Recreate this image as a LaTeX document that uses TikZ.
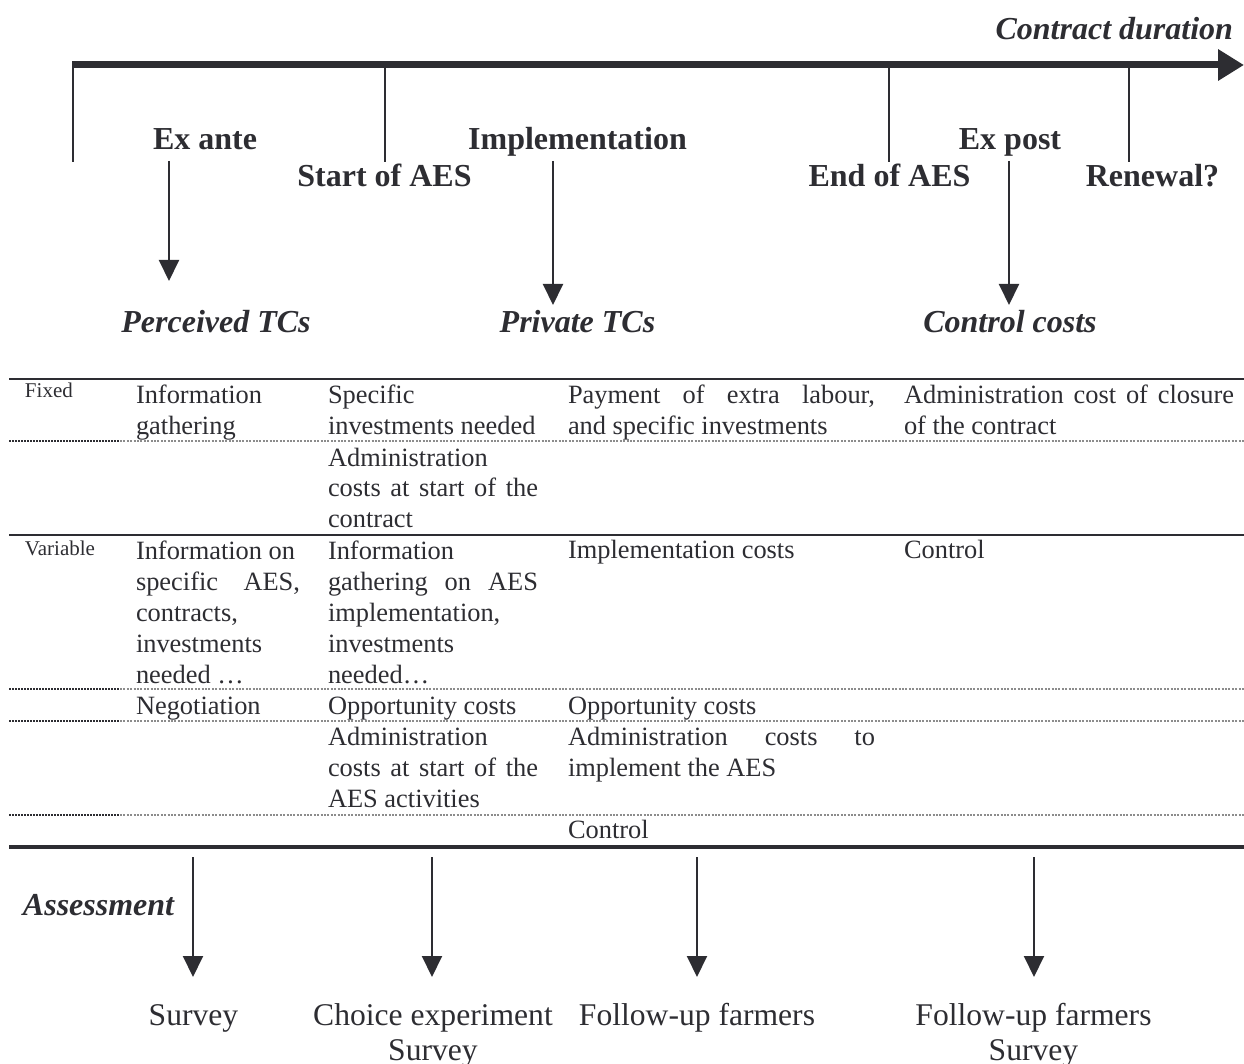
\documentclass[tikz,border=0pt]{standalone}
\usepackage{fontspec}
\setmainfont{Liberation Serif}
\usetikzlibrary{arrows.meta}
\definecolor{ink}{RGB}{45,45,50}
\definecolor{dotlight}{RGB}{140,140,140}
\newcommand{\strline}[2]{\makebox[#1][s]{#2}}
\begin{document}
\begin{tikzpicture}[x=0.5pt,y=-0.5pt,
  every node/.style={inner sep=0pt, outer sep=0pt, text=ink},
  head/.style={font=\bfseries\fontsize{16}{19}\selectfont, anchor=base},
  headit/.style={font=\bfseries\itshape\fontsize{16}{19}\selectfont, anchor=base},
  cell/.style={font=\fontsize{13.2}{15.5}\selectfont, anchor=base west, align=left},
  smalllab/.style={font=\fontsize{10.5}{12}\selectfont, anchor=base west},
  bot/.style={font=\fontsize{15.8}{17.5}\selectfont, anchor=base, align=center},
  tick/.style={draw=ink, line width=1pt},
  darr/.style={draw=ink, line width=1pt, -{Triangle[length=10.5pt,width=10pt]}},
  solidrule/.style={draw=ink, line width=1.2pt},
  dotdark/.style={draw=ink, line width=1pt, dash pattern=on 1pt off 0.5pt},
  dotlite/.style={draw=dotlight, line width=1pt, dash pattern=on 1pt off 0.7pt}
]
\useasboundingbox (0,0) rectangle (1244,1064);

% ---- timeline ----
\coordinate (t0) at (72,65);
\coordinate (t1) at (1244,65);
\draw[ink, line width=3.5pt, -{Triangle[length=13pt,width=15pt]}] (t0) -- (t1);
\node[headit, anchor=base east] (cd) at (1233,40) {Contract duration};

\coordinate (k0a) at (73,65);   \coordinate (k0b) at (73,162);
\coordinate (k1a) at (385,65);  \coordinate (k1b) at (385,162);
\coordinate (k2a) at (889,65);  \coordinate (k2b) at (889,162);
\coordinate (k3a) at (1129,65); \coordinate (k3b) at (1129,162);
\draw[tick] (k0a) -- (k0b);
\draw[tick] (k1a) -- (k1b);
\draw[tick] (k2a) -- (k2b);
\draw[tick] (k3a) -- (k3b);

\node[head] (exante) at (205,150) {Ex ante};
\node[head] (impl) at (577.5,150) {Implementation};
\node[head] (expost) at (1010,150) {Ex post};
\node[head] (start) at (384.5,187) {Start of AES};
\node[head] (endaes) at (889.5,187) {End of AES};
\node[head] (renew) at (1152.5,187) {Renewal?};

\node[headit] (perc) at (216,333) {Perceived TCs};
\node[headit] (priv) at (577.5,333) {Private TCs};
\node[headit] (ctrl) at (1010,333) {Control costs};

\coordinate (a1s) at (169,161);  \coordinate (a1e) at (169,281);
\coordinate (a2s) at (553,161);  \coordinate (a2e) at (553,305);
\coordinate (a3s) at (1009,161); \coordinate (a3e) at (1009,305);
\draw[darr] (a1s) -- (a1e);
\draw[darr] (a2s) -- (a2e);
\draw[darr] (a3s) -- (a3e);

% ---- table rules ----
\coordinate (r0l) at (9,379);  \coordinate (r0r) at (1244,379);
\coordinate (r1l) at (9,441);  \coordinate (r1m) at (120,441); \coordinate (r1r) at (1244,441);
\coordinate (r2l) at (9,535);  \coordinate (r2r) at (1244,535);
\coordinate (r3l) at (9,689);  \coordinate (r3m) at (120,689); \coordinate (r3r) at (1244,689);
\coordinate (r4l) at (9,721);  \coordinate (r4m) at (120,721); \coordinate (r4r) at (1244,721);
\coordinate (r5l) at (9,815);  \coordinate (r5m) at (120,815); \coordinate (r5r) at (1244,815);
\coordinate (r6l) at (9,847);  \coordinate (r6r) at (1244,847);
\draw[solidrule] (r0l) -- (r0r);
\draw[dotdark] (r1l) -- (r1m); \draw[dotlite] (r1m) -- (r1r);
\draw[solidrule] (r2l) -- (r2r);
\draw[dotdark] (r3l) -- (r3m); \draw[dotlite] (r3m) -- (r3r);
\draw[dotdark] (r4l) -- (r4m); \draw[dotlite] (r4m) -- (r4r);
\draw[dotdark] (r5l) -- (r5m); \draw[dotlite] (r5m) -- (r5r);
\draw[solidrule, line width=1.6pt] (r6l) -- (r6r);

% ---- table text (anchor = baseline of the LAST line) ----
\node[smalllab] (fx) at (25,398) {Fixed};
\node[cell] (f1) at (136,435) {Information\\gathering};
\node[cell] (f2) at (328,435) {Specific\\investments needed};
\node[cell] (f2b) at (328,528) {Administration\\\strline{105pt}{costs at start of the}\\contract};
\node[cell] (f3) at (568,435) {\strline{153.5pt}{Payment of extra labour,}\\and specific investments};
\node[cell] (f4) at (904,435) {\strline{165pt}{Administration cost of closure}\\of the contract};

\node[smalllab] (vr) at (25,555) {Variable};
\node[cell] (v1) at (136,683) {Information on\\\strline{82pt}{specific AES,}\\contracts,\\investments\\needed …};
\node[cell] (v2) at (328,683) {Information\\\strline{105pt}{gathering on AES}\\implementation,\\investments\\needed…};
\node[cell] (v3) at (568,559) {Implementation costs};
\node[cell] (v4) at (904,559) {Control};

\node[cell] (n1) at (136,714) {Negotiation};
\node[cell] (n2) at (328,714) {Opportunity costs};
\node[cell] (n3) at (568,714) {Opportunity costs};

\node[cell] (ad2) at (328,807) {Administration\\\strline{105pt}{costs at start of the}\\AES activities};
\node[cell] (ad3) at (568,776) {\strline{153.5pt}{Administration costs to}\\implement the AES};
\node[cell] (c3) at (568,838) {Control};

% ---- assessment ----
\node[headit, anchor=base west] (assess) at (23,915) {Assessment};

\coordinate (b1s) at (193,857);  \coordinate (b1e) at (193,977);
\coordinate (b2s) at (432,857);  \coordinate (b2e) at (432,977);
\coordinate (b3s) at (697,857);  \coordinate (b3e) at (697,977);
\coordinate (b4s) at (1034,857); \coordinate (b4e) at (1034,977);
\draw[darr] (b1s) -- (b1e);
\draw[darr] (b2s) -- (b2e);
\draw[darr] (b3s) -- (b3e);
\draw[darr] (b4s) -- (b4e);

\node[bot] (s1) at (193.5,1025) {Survey};
\node[bot] (s2) at (433,1060) {Choice experiment\\Survey};
\node[bot] (s3) at (697,1025) {Follow-up farmers};
\node[bot] (s4) at (1033.5,1060) {Follow-up farmers\\Survey};
\end{tikzpicture}
\end{document}
